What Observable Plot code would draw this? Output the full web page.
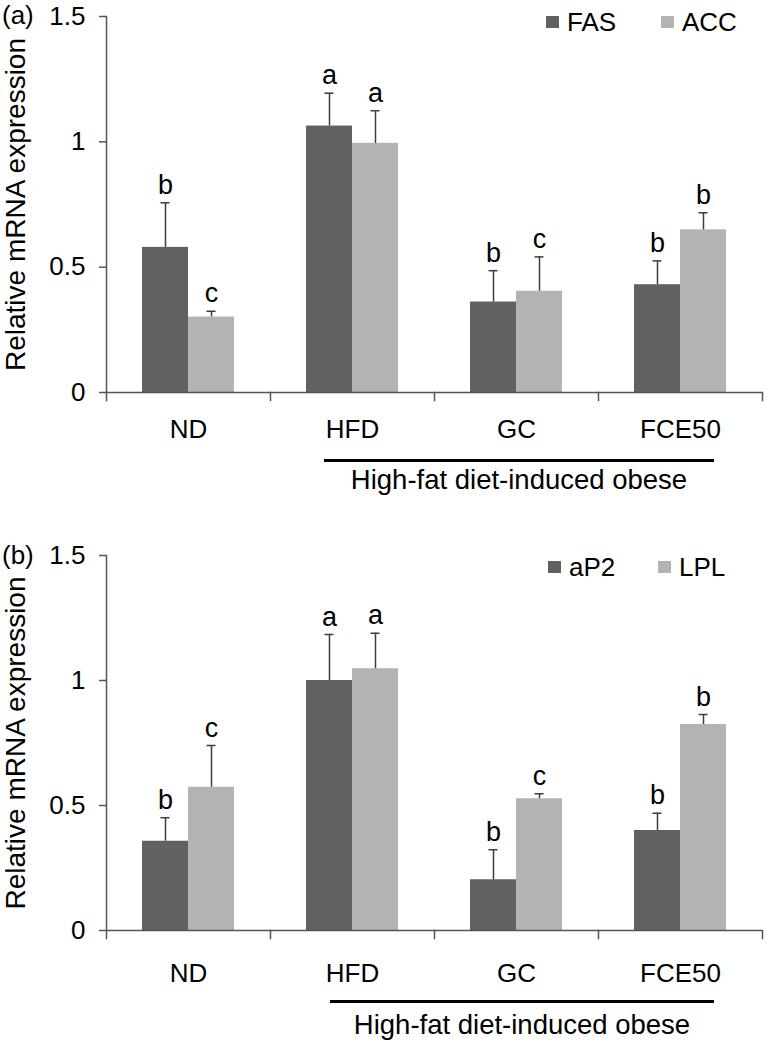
<!DOCTYPE html>
<html><head><meta charset="utf-8">
<script src="https://cdn.jsdelivr.net/npm/d3@7"></script>
<script src="https://cdn.jsdelivr.net/npm/@observablehq/plot@0.6"></script>
<style>
html,body{margin:0;padding:0;background:#fff;overflow:hidden;}
body{font-family:"Liberation Sans",Arial,Helvetica,sans-serif;}
#page{position:relative;width:766px;height:1041px;overflow:hidden;background:#fff;}
.panel{position:absolute;left:0;width:766px;}
.panel svg{display:block;}
.txt{position:absolute;font-size:26px;line-height:30px;color:#000;white-space:nowrap;}
.item{position:absolute;display:flex;align-items:center;font-size:26px;line-height:30px;color:#000;white-space:nowrap;}
.sw{display:inline-block;width:13px;height:12px;margin-right:8px;}
.bar{position:absolute;height:3px;background:#000;}
</style></head>
<body><div id="page"></div>
<script>
// ---- data ----
const groups = ["ND", "HFD", "GC", "FCE50"];
const yTicks = [0, 0.5, 1, 1.5];
const yTickLabels = ["0", "0.5", "1", "1.5"];
const yLabel = "Relative mRNA expression";
const groupLabel = "High-fat diet-induced obese";
const seriesColors = ["#616161", "#b3b3b3"];

// panel (a)
const seriesA = ["FAS", "ACC"];
const fasMean = [0.579, 1.063, 0.361, 0.430];
const fasErr = [0.178, 0.131, 0.125, 0.095];
const fasLetters = ["b", "a", "b", "b"];
const accMean = [0.301, 0.994, 0.404, 0.649];
const accErr = [0.023, 0.130, 0.137, 0.068];
const accLetters = ["c", "a", "c", "b"];

// panel (b)
const seriesB = ["aP2", "LPL"];
const ap2Mean = [0.357, 1.000, 0.203, 0.400];
const ap2Err = [0.094, 0.184, 0.120, 0.069];
const ap2Letters = ["b", "a", "b", "b"];
const lplMean = [0.573, 1.047, 0.527, 0.824];
const lplErr = [0.167, 0.142, 0.020, 0.040];
const lplLetters = ["c", "a", "c", "b"];

// ---- drawing ----
const FONT = '"Liberation Sans", Arial, Helvetica, sans-serif';
const AXIS = "#555";
const ERR = "#3c3c3c";
const page = document.getElementById("page");

function makeRows(series, means, errs, letters) {
  const rows = [];
  groups.forEach((g, i) => series.forEach((s, j) => rows.push({
    group: g, series: s, value: means[j][i], top: means[j][i] + errs[j][i], letter: letters[j][i]
  })));
  return rows;
}

function panel(cfg) {
  const rows = makeRows(cfg.series, cfg.means, cfg.errs, cfg.letters);
  const plotH = cfg.height - cfg.marginTop - cfg.marginBottom;
  const chart = Plot.plot({
    width: 766,
    height: cfg.height,
    marginTop: cfg.marginTop,
    marginBottom: cfg.marginBottom,
    marginLeft: 104,
    marginRight: 3,
    style: {fontFamily: FONT, fontSize: "26px", color: "#000", background: "#fff", overflow: "visible"},
    fx: {domain: groups, padding: 0, label: null},
    x: {domain: cfg.series, paddingInner: 0, paddingOuter: 0.78, axis: null},
    y: {domain: [0, 1.5], axis: null},
    color: {domain: cfg.series, range: seriesColors},
    marks: [
      Plot.barY(rows, {fx: "group", x: "series", y: "value", fill: "series"}),
      Plot.ruleX(rows, {fx: "group", x: "series", y1: "value", y2: "top", stroke: ERR, strokeWidth: 1.5}),
      Plot.tickY(rows, {fx: "group", x: "series", y: "top", stroke: ERR, strokeWidth: 1.5, insetLeft: 18.5, insetRight: 18.5}),
      Plot.text(rows, {fx: "group", x: "series", y: "top", text: "letter", dy: -9, lineAnchor: "bottom", fontSize: 27, fill: "#000"}),
      Plot.ruleY([0], {stroke: AXIS, strokeWidth: 1.5}),
      Plot.frame({anchor: "left", insetBottom: -8, facetAnchor: "left", stroke: AXIS, strokeWidth: 1.5}),
      Plot.frame({anchor: "right", insetTop: plotH, insetBottom: -8, stroke: AXIS, strokeWidth: 1.5}),
      Plot.axisY({
        ticks: yTicks,
        tickFormat: d => yTickLabels[yTicks.indexOf(d)],
        tickSize: 7, tickPadding: 14, stroke: AXIS, strokeWidth: 1.5,
        fontSize: 26, label: null
      }),
      Plot.axisY({
        ticks: [], tickSize: 0, fontSize: 28,
        label: yLabel, labelAnchor: "center", labelArrow: "none", labelOffset: 101
      }),
      Plot.axisFx({anchor: "bottom", tickSize: 0, tickPadding: cfg.fxPad, label: null, fontSize: 26})
    ]
  });
  const wrap = document.createElement("div");
  wrap.className = "panel";
  wrap.style.top = cfg.top + "px";
  wrap.appendChild(chart);
  page.appendChild(wrap);
}

function addText(text, left, top, extra) {
  const d = document.createElement("div");
  d.className = "txt";
  d.textContent = text;
  d.style.left = left + "px";
  d.style.top = top + "px";
  if (extra) Object.assign(d.style, extra);
  page.appendChild(d);
}

function addLegend(series, lefts, top) {
  series.forEach((s, j) => {
    const it = document.createElement("div");
    it.className = "item";
    it.style.left = lefts[j] + "px";
    it.style.top = top + "px";
    const sw = document.createElement("span");
    sw.className = "sw";
    sw.style.background = seriesColors[j];
    it.appendChild(sw);
    it.appendChild(document.createTextNode(s));
    page.appendChild(it);
  });
}

function addGroupBar(x1, x2, lineTop, textTop) {
  const b = document.createElement("div");
  b.className = "bar";
  b.style.left = x1 + "px";
  b.style.width = (x2 - x1) + "px";
  b.style.top = lineTop + "px";
  page.appendChild(b);
  addText(groupLabel, x1 - 20, textTop, {width: (x2 - x1 + 40) + "px", textAlign: "center", fontSize: "27.5px"});
}

// Panel (a)
panel({
  series: seriesA, means: [fasMean, accMean], errs: [fasErr, accErr], letters: [fasLetters, accLetters],
  top: 0, height: 510, marginTop: 16, marginBottom: 118, fxPad: 27
});
// Panel (b)
panel({
  series: seriesB, means: [ap2Mean, lplMean], errs: [ap2Err, lplErr], letters: [ap2Letters, lplLetters],
  top: 510, height: 531, marginTop: 45, marginBottom: 111, fxPad: 33
});

addText("(a)", 2, 0);
addText("(b)", 2, 540);
addLegend(seriesA, [546, 661], 7);
addLegend(seriesB, [548, 658], 552);
addGroupBar(324, 714, 459, 465);
addGroupBar(330, 714, 1000, 1010);
</script>
</body></html>
